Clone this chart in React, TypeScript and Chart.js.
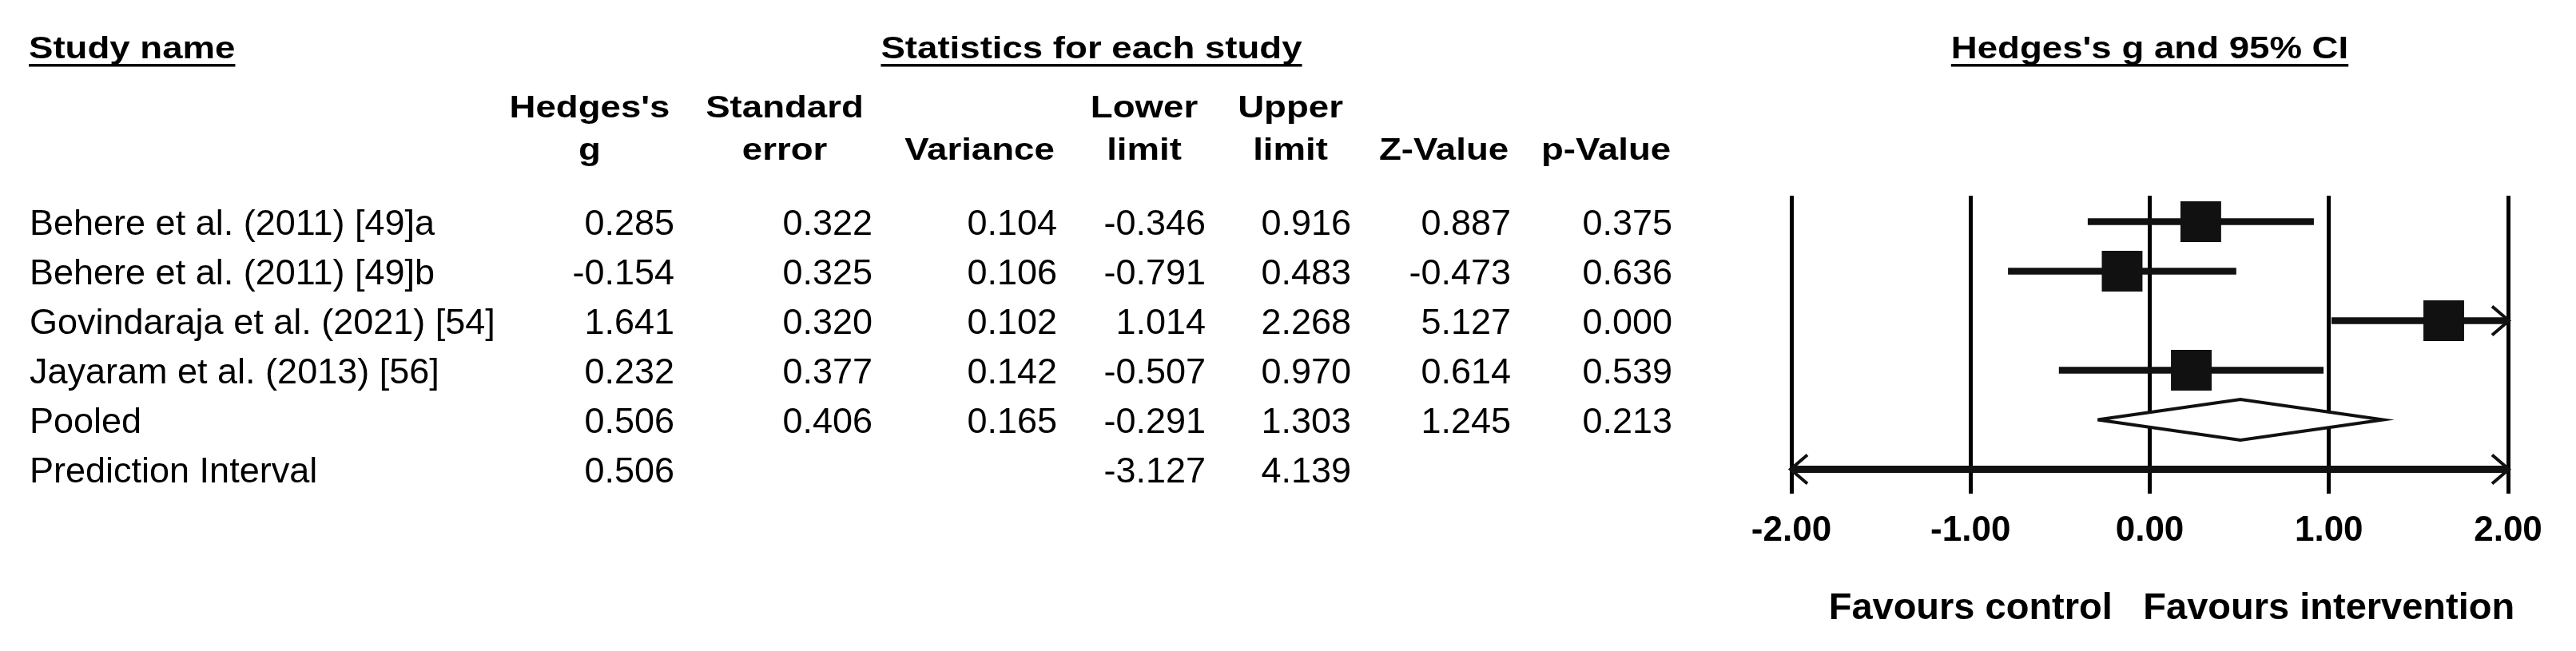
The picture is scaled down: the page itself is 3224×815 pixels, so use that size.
import React, { useEffect, useRef } from "react";
import { Chart, registerables } from "chart.js";

Chart.register(...registerables);

// ---------- data ----------
const studyNames = [
  "Behere et al. (2011) [49]a",
  "Behere et al. (2011) [49]b",
  "Govindaraja et al. (2021) [54]",
  "Jayaram et al. (2013) [56]",
  "Pooled",
  "Prediction Interval",
];
const rowKind = ["study", "study", "study", "study", "pooled", "prediction"];
const hedgesG = [0.285, -0.154, 1.641, 0.232, 0.506, 0.506];
const stdError = [0.322, 0.325, 0.32, 0.377, 0.406, null];
const variance = [0.104, 0.106, 0.102, 0.142, 0.165, null];
const lowerLimit = [-0.346, -0.791, 1.014, -0.507, -0.291, -3.127];
const upperLimit = [0.916, 0.483, 2.268, 0.97, 1.303, 4.139];
const zValue = [0.887, -0.473, 5.127, 0.614, 1.245, null];
const pValue = [0.375, 0.636, 0.0, 0.539, 0.213, null];

const xTicks = [-2, -1, 0, 1, 2];
const headerLine1 = ["Hedges's", "Standard", "", "Lower", "Upper", "", ""];
const headerLine2 = ["g", "error", "Variance", "limit", "limit", "Z-Value", "p-Value"];
const sectionTitles = ["Study name", "Statistics for each study", "Hedges's g and 95% CI"];
const favoursLabels = ["Favours control", "Favours intervention"];
const favoursAt = [-1, 1];

// ---------- layout / style ----------
const FONT = '"Liberation Sans", Arial, Helvetica, sans-serif';
const W = 3224;
const H = 815;
const valueRight = [844, 1092, 1323, 1509, 1691, 1891, 2093];
const headerCenter = [738, 982, 1226, 1432, 1615, 1807, 2010];
const INK = "#111111";
const DIAMOND_HALF = 25.5 / 62; // in row units

function drawScaled(
  ctx: CanvasRenderingContext2D,
  text: string,
  x: number,
  y: number,
  align: CanvasTextAlign,
  sx: number
) {
  ctx.save();
  ctx.translate(x, y);
  ctx.scale(sx, 1);
  ctx.textAlign = align;
  ctx.fillText(text, 0, 0);
  ctx.restore();
}

const tablePlugin = {
  id: "forestTable",
  afterDraw(chart: any) {
    const ctx: CanvasRenderingContext2D = chart.ctx;
    const xs = chart.scales.x;
    const ys = chart.scales.y;
    ctx.save();
    ctx.fillStyle = "#000";
    ctx.textBaseline = "alphabetic";

    // section titles (bold, slightly condensed vertically)
    const SX = 1.2;
    ctx.font = `bold 38px ${FONT}`;
    const titleX = [36, 1366, xs.getPixelForValue(0)];
    const titleAlign: CanvasTextAlign[] = ["left", "center", "center"];
    sectionTitles.forEach((t, i) => {
      drawScaled(ctx, t, titleX[i], 73, titleAlign[i], SX);
      const w = ctx.measureText(t).width * SX;
      const x0 = titleAlign[i] === "left" ? titleX[i] : titleX[i] - w / 2;
      ctx.fillRect(x0, 80, w, 3.5);
    });

    // column headers
    headerLine1.forEach((t, i) => {
      if (t) drawScaled(ctx, t, headerCenter[i], 147, "center", SX);
    });
    headerLine2.forEach((t, i) => {
      if (t) drawScaled(ctx, t, headerCenter[i], 200, "center", SX);
    });

    // table rows
    ctx.font = `45px ${FONT}`;
    const cols = [hedgesG, stdError, variance, lowerLimit, upperLimit, zValue, pValue];
    studyNames.forEach((name, r) => {
      const yb = ys.getPixelForValue(r) + 17;
      ctx.textAlign = "left";
      ctx.fillText(name, 37, yb);
      ctx.textAlign = "right";
      cols.forEach((col, c) => {
        const v = col[r];
        if (v !== null && v !== undefined) ctx.fillText(v.toFixed(3), valueRight[c], yb);
      });
    });

    // favours labels
    ctx.font = `bold 47px ${FONT}`;
    ctx.textAlign = "center";
    favoursLabels.forEach((t, i) => {
      ctx.fillText(t, xs.getPixelForValue(favoursAt[i]), 775);
    });
    ctx.restore();
  },
  afterDatasetsDraw(chart: any) {
    const ctx: CanvasRenderingContext2D = chart.ctx;
    const xs = chart.scales.x;
    const ys = chart.scales.y;
    const ca = chart.chartArea;
    ctx.save();
    ctx.strokeStyle = INK;
    ctx.lineWidth = 4;
    ctx.lineCap = "butt";
    ctx.lineJoin = "miter";
    const chevron = (tipX: number, y: number, dir: number) => {
      ctx.beginPath();
      ctx.moveTo(tipX + dir * 21, y - 18);
      ctx.lineTo(tipX, y);
      ctx.lineTo(tipX + dir * 21, y + 18);
      ctx.stroke();
    };
    rowKind.forEach((k, r) => {
      if (k === "pooled") return;
      const y = ys.getPixelForValue(r);
      if (lowerLimit[r] < xs.min) chevron(ca.left - 1, y, 1);
      if (upperLimit[r] > xs.max) chevron(ca.right + 1, y, -1);
    });
    ctx.restore();
  },
};

export default function App() {
  const ref = useRef<HTMLCanvasElement>(null);

  useEffect(() => {
    const rows = rowKind.map((_, i) => i);
    const studyRows = rows.filter((r) => rowKind[r] === "study");
    const pooledRow = rows.find((r) => rowKind[r] === "pooled")!;
    const predRow = rows.find((r) => rowKind[r] === "prediction")!;

    const datasets: any[] = [];
    datasets.push({
      label: "Hedges's g",
      data: studyRows.map((r) => ({ x: hedgesG[r], y: r })),
      pointStyle: "rect",
      pointRadius: 36,
      pointHoverRadius: 36,
      backgroundColor: INK,
      borderWidth: 0,
      showLine: false,
    });
    studyRows.forEach((r) => {
      datasets.push({
        label: studyNames[r],
        data: [
          { x: lowerLimit[r], y: r },
          { x: upperLimit[r], y: r },
        ],
        showLine: true,
        borderColor: INK,
        borderWidth: 8.5,
        borderCapStyle: "butt",
        pointRadius: 0,
        pointHoverRadius: 0,
        fill: false,
      });
    });
    datasets.push({
      label: studyNames[pooledRow],
      data: [
        { x: lowerLimit[pooledRow], y: pooledRow },
        { x: hedgesG[pooledRow], y: pooledRow - DIAMOND_HALF },
        { x: upperLimit[pooledRow], y: pooledRow },
        { x: hedgesG[pooledRow], y: pooledRow + DIAMOND_HALF },
        { x: lowerLimit[pooledRow], y: pooledRow },
      ],
      showLine: true,
      borderColor: INK,
      borderWidth: 4,
      borderJoinStyle: "miter",
      backgroundColor: "#ffffff",
      fill: "shape",
      pointRadius: 0,
      pointHoverRadius: 0,
      tension: 0,
    });
    datasets.push({
      label: studyNames[predRow],
      data: [
        { x: lowerLimit[predRow], y: predRow },
        { x: upperLimit[predRow], y: predRow },
      ],
      showLine: true,
      borderColor: INK,
      borderWidth: 9,
      borderCapStyle: "butt",
      pointRadius: 0,
      pointHoverRadius: 0,
      fill: false,
    });

    const chart = new Chart(ref.current!, {
      type: "scatter",
      data: { datasets },
      options: {
        animation: false,
        responsive: false,
        devicePixelRatio: 1,
        events: [],
        layout: { padding: { left: 2242, right: 85, top: 245, bottom: 0 } },
        plugins: {
          legend: { display: false },
          tooltip: { enabled: false },
          title: { display: false },
        },
        scales: {
          x: {
            type: "linear",
            min: xTicks[0],
            max: xTicks[xTicks.length - 1],
            afterBuildTicks: (s: any) => {
              s.ticks = xTicks.map((v) => ({ value: v }));
            },
            afterFit: (s: any) => {
              s.height = 197;
            },
            grid: {
              color: "#000",
              lineWidth: 5,
              drawTicks: false,
            },
            border: { display: false },
            ticks: {
              padding: 20,
              color: "#000",
              font: { family: FONT, size: 44, weight: "bold" },
              callback: (v: any) => Number(v).toFixed(2),
              maxRotation: 0,
              autoSkip: false,
            },
          },
          y: {
            type: "linear",
            display: false,
            reverse: true,
            min: -0.524,
            max: 5.492,
          },
        },
      },
      plugins: [tablePlugin],
    } as any);
    return () => chart.destroy();
  }, []);

  return (
    <div
      style={{
        position: "absolute",
        left: 0,
        top: 0,
        width: W,
        height: H,
        background: "#ffffff",
      }}
    >
      <canvas ref={ref} width={W} height={H} style={{ display: "block", width: W, height: H }} />
    </div>
  );
}
